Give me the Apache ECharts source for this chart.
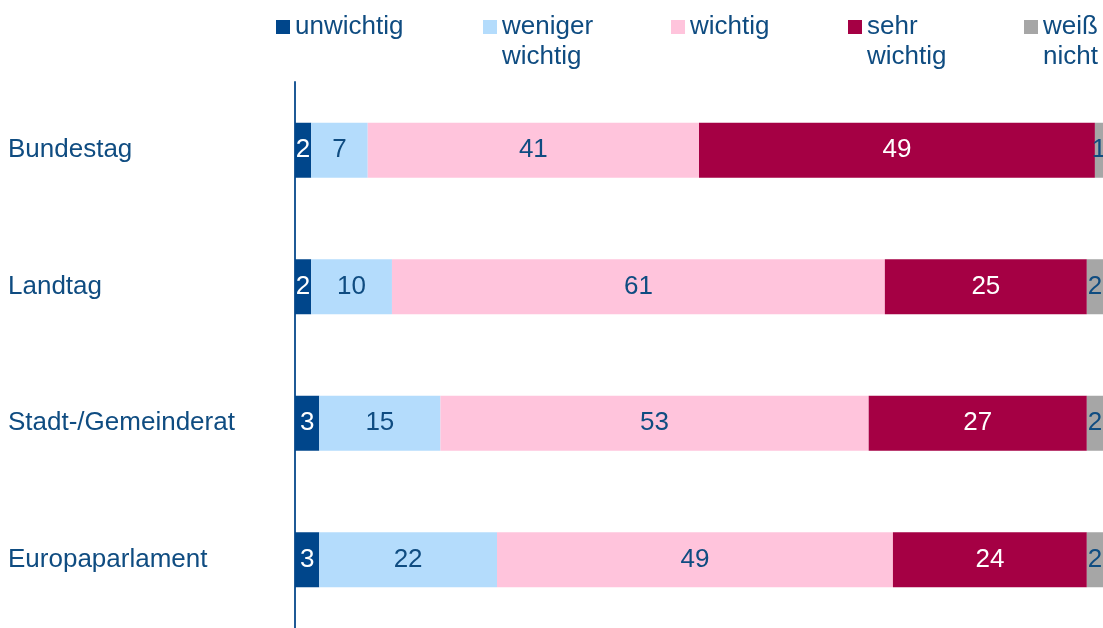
<!DOCTYPE html>
<html lang="de">
<head>
    <meta charset="UTF-8">
    <title>Wichtigkeit der Parlamente</title>
    <script src="https://cdn.jsdelivr.net/npm/echarts@6/dist/echarts.min.js"></script>
    <style>
        html, body { margin: 0; padding: 0; background: #fff; }
        #main { width: 1103px; height: 628px; }
    </style>
</head>
<body>
    <div id="main"></div>
    <script type="text/javascript">
        // Kategorien (von oben nach unten)
        var categories = ['Bundestag', 'Landtag', 'Stadt-/Gemeinderat', 'Europaparlament'];
        // Antworten in Prozent
        var unwichtig = [2, 2, 3, 3];
        var wenigerWichtig = [7, 10, 15, 22];
        var wichtig = [41, 61, 53, 49];
        var sehrWichtig = [49, 25, 27, 24];
        var weissNicht = [1, 2, 2, 2];

        var seriesNames = ['unwichtig', 'weniger\nwichtig', 'wichtig', 'sehr\nwichtig', 'weiß\nnicht'];
        var seriesData = [unwichtig, wenigerWichtig, wichtig, sehrWichtig, weissNicht];
        var colors = ['#00468b', '#b4dcfc', '#ffc4dc', '#a50044', '#a6a6a6'];
        var labelColors = ['#ffffff', '#0f4c81', '#0f4c81', '#ffffff', '#0f4c81'];
        var textColor = '#0f4c81';
        var font = 'Liberation Sans, Arial, sans-serif';

        // Legende: jeweils ein Eintrag, eigene Position
        // zweizeilige Eintraege bekommen eine Leerzeile davor, damit die erste Zeile neben dem Symbol steht
        var legendLeft = [276, 483, 671, 848, 1024];
        var legends = seriesNames.map(function (name, i) {
            var twoLines = name.indexOf('\n') >= 0;
            return {
                data: [name],
                left: legendLeft[i],
                top: twoLines ? -18 : 12,
                padding: 0,
                itemWidth: 14,
                itemHeight: 14,
                icon: 'rect',
                selectedMode: false,
                formatter: function (n) {
                    return twoLines ? '\n' + n : n;
                },
                textStyle: {
                    color: textColor,
                    fontSize: 26,
                    fontFamily: font,
                    lineHeight: 30
                }
            };
        });

        var series = seriesNames.map(function (name, i) {
            return {
                name: name,
                type: 'bar',
                stack: 'total',
                barWidth: 55,
                animation: false,
                itemStyle: { color: colors[i] },
                label: {
                    show: true,
                    position: 'inside',
                    color: labelColors[i],
                    fontSize: 26,
                    fontFamily: font
                },
                data: seriesData[i]
            };
        });

        var option = {
            color: colors,
            legend: legends,
            grid: {
                left: 295,
                right: 0,
                top: 82,
                bottom: 0,
                containLabel: false
            },
            xAxis: {
                type: 'value',
                min: 0,
                max: 100,
                show: false
            },
            yAxis: {
                type: 'category',
                inverse: true,
                data: categories,
                axisLine: { show: true, lineStyle: { color: '#1f5a96', width: 2 } },
                axisTick: { show: false },
                axisLabel: {
                    align: 'left',
                    margin: 287,
                    color: textColor,
                    fontSize: 26,
                    fontFamily: font
                }
            },
            series: series
        };

        var myChart = echarts.init(document.getElementById('main'));
        myChart.setOption(option);
    </script>
</body>
</html>
